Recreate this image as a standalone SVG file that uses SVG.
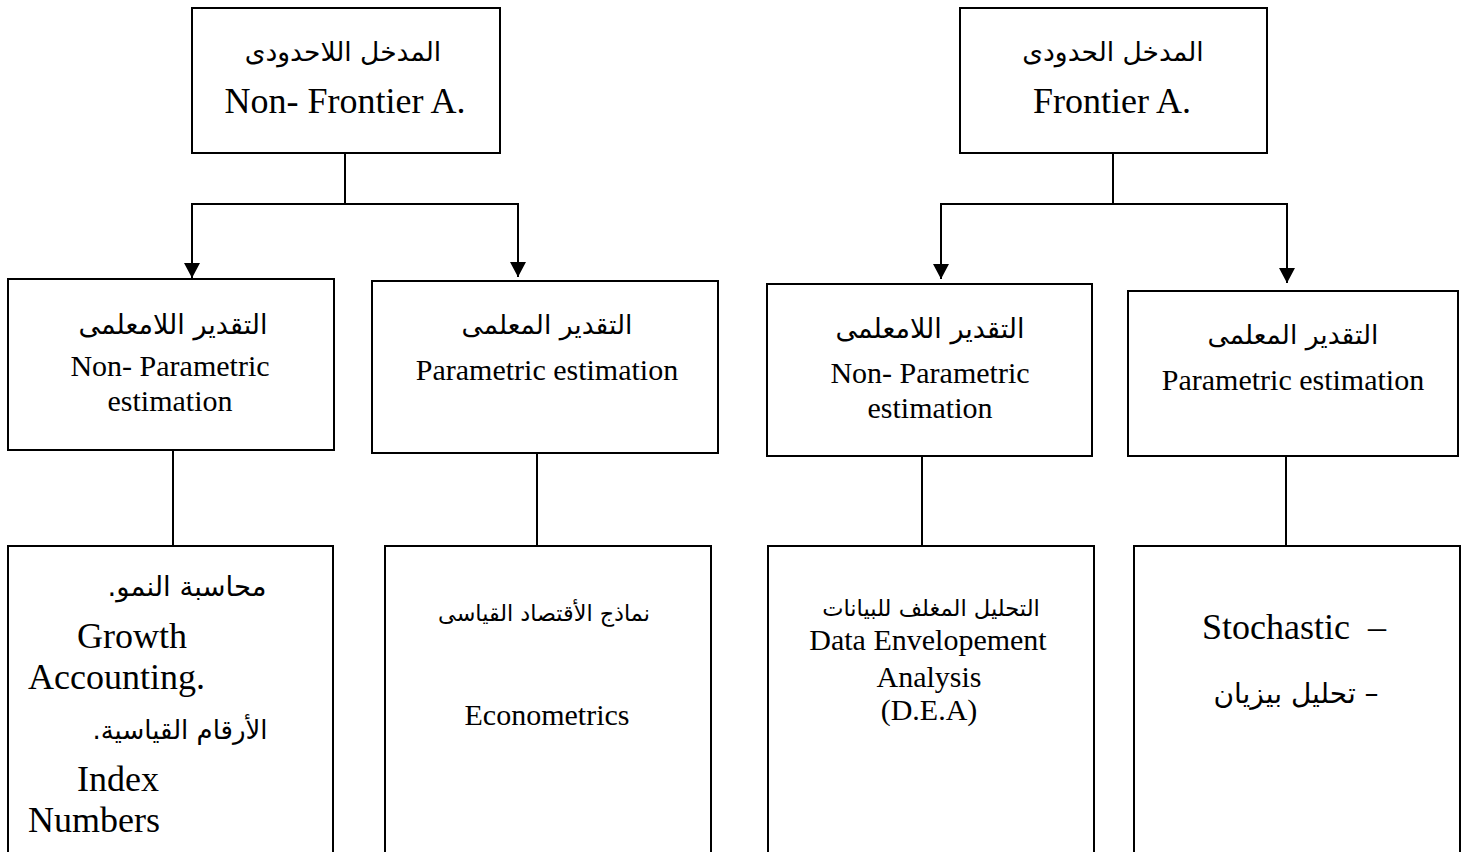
<svg xmlns="http://www.w3.org/2000/svg" width="1470" height="852" viewBox="0 0 1470 852">
<defs>
<style>
.box{fill:#fff;stroke:#000;stroke-width:2}
.con{fill:none;stroke:#000;stroke-width:2}
.en{font-family:"Liberation Serif","Times New Roman",serif;fill:#000}
.ar{font-family:"DejaVu Sans","Liberation Serif",sans-serif;fill:#000;direction:rtl;unicode-bidi:embed}
.c{text-anchor:middle}
</style>
<marker id="arr" markerUnits="userSpaceOnUse" markerWidth="16" markerHeight="16" refX="15" refY="8" orient="auto" viewBox="0 0 16 16">
<path d="M0,0 L15,8 L0,16 Z" fill="#000"/>
</marker>
</defs>
<rect width="1470" height="852" fill="#fff"/>

<g id="connectors">
<path class="con" d="M345,153 V204 M192,204 H518"/>
<path class="con" d="M192,203 V278" marker-end="url(#arr)"/>
<path class="con" d="M518,203 V277" marker-end="url(#arr)"/>
<path class="con" d="M1113,153 V204 M941,204 H1287"/>
<path class="con" d="M941,203 V279" marker-end="url(#arr)"/>
<path class="con" d="M1287,203 V283" marker-end="url(#arr)"/>
<path class="con" d="M173,450 V546"/>
<path class="con" d="M537,453 V546"/>
<path class="con" d="M922,456 V546"/>
<path class="con" d="M1286,456 V546"/>
</g>

<g id="nonfrontier">
<rect class="box" x="192" y="8" width="308" height="145"/>
<text class="ar c" x="343" y="61" font-size="26.5">المدخل اللاحدودى</text>
<text class="en c" x="345" y="113" font-size="36">Non- Frontier A.</text>
</g>

<g id="frontier">
<rect class="box" x="960" y="8" width="307" height="145"/>
<text class="ar c" x="1113" y="61" font-size="26.5">المدخل الحدودى</text>
<text class="en c" x="1112" y="113" font-size="36">Frontier A.</text>
</g>

<g id="nf-nonparam">
<rect class="box" x="8" y="279" width="326" height="171"/>
<text class="ar c" x="173" y="334" font-size="27">التقدير اللامعلمى</text>
<text class="en c" x="170" y="376" font-size="30">Non- Parametric</text>
<text class="en c" x="170" y="411" font-size="30">estimation</text>
</g>

<g id="nf-param">
<rect class="box" x="372" y="281" width="346" height="172"/>
<text class="ar c" x="547" y="334" font-size="26.5">التقدير المعلمى</text>
<text class="en c" x="547" y="380" font-size="30">Parametric estimation</text>
</g>

<g id="f-nonparam">
<rect class="box" x="767" y="284" width="325" height="172"/>
<text class="ar c" x="930" y="338" font-size="27">التقدير اللامعلمى</text>
<text class="en c" x="930" y="383" font-size="30">Non- Parametric</text>
<text class="en c" x="930" y="418" font-size="30">estimation</text>
</g>

<g id="f-param">
<rect class="box" x="1128" y="291" width="330" height="165"/>
<text class="ar c" x="1293" y="344" font-size="26.5">التقدير المعلمى</text>
<text class="en c" x="1293" y="390" font-size="30">Parametric estimation</text>
</g>

<g id="growth-index">
<rect class="box" x="8" y="546" width="325" height="330"/>
<text class="ar c" x="187" y="596" font-size="27.5">محاسبة النمو.</text>
<text class="en" x="77" y="648" font-size="36">Growth</text>
<text class="en" x="28" y="689" font-size="36">Accounting.</text>
<text class="ar c" x="180" y="739" font-size="26">الأرقام القياسية.</text>
<text class="en" x="77" y="791" font-size="36">Index</text>
<text class="en" x="28" y="832" font-size="36">Numbers</text>
</g>

<g id="econometrics">
<rect class="box" x="385" y="546" width="326" height="330"/>
<text class="ar c" x="544" y="621" font-size="22.3">نماذج الأقتصاد القياسى</text>
<text class="en c" x="547" y="725" font-size="30">Econometrics</text>
</g>

<g id="dea">
<rect class="box" x="768" y="546" width="326" height="330"/>
<text class="ar c" x="931" y="616" font-size="22.6">التحليل المغلف للبيانات</text>
<text class="en c" x="928" y="650" font-size="30">Data Envelopement</text>
<text class="en c" x="929" y="687" font-size="30">Analysis</text>
<text class="en c" x="929" y="720" font-size="30">(D.E.A)</text>
</g>

<g id="stochastic">
<rect class="box" x="1134" y="546" width="326" height="330"/>
<text class="en" x="1202" y="639" font-size="36">Stochastic  <tspan x="1368">–</tspan></text>
<text class="ar c" x="1296" y="703" font-size="28">– تحليل  بيزيان</text>
</g>
</svg>
